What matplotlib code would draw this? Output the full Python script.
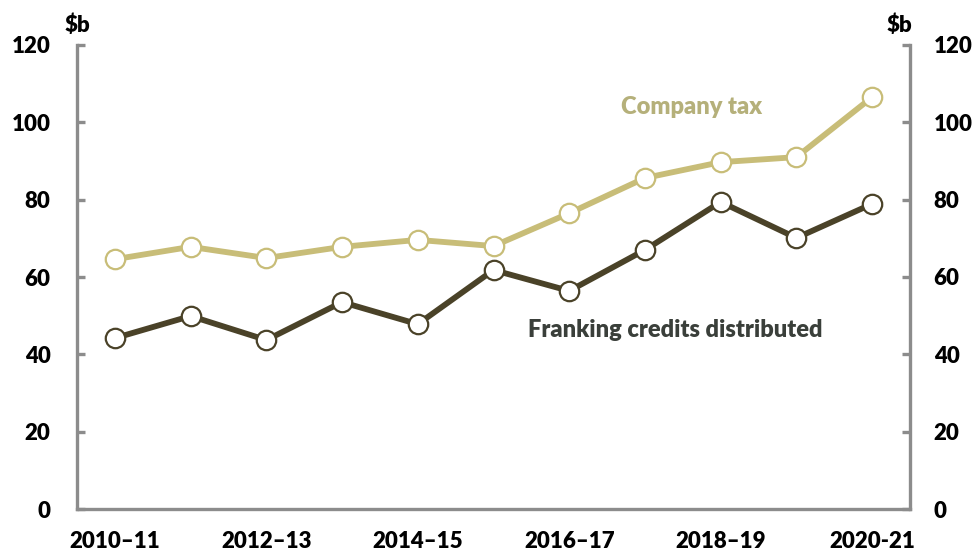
import numpy as np
import matplotlib.pyplot as plt

plt.rcParams['font.family'] = ['Lato', 'DejaVu Sans']
plt.rcParams['font.weight'] = 'heavy'

years = ['2010–11', '2011–12', '2012–13', '2013–14', '2014–15', '2015–16',
         '2016–17', '2017–18', '2018–19', '2019–20', '2020-21']
company_tax = [64.6, 67.8, 64.9, 67.8, 69.6, 68.0, 76.5, 85.6, 89.7, 91.0, 106.5]
franking = [44.2, 49.9, 43.7, 53.5, 47.8, 61.8, 56.4, 67.0, 79.4, 70.1, 78.9]
yticks = [0, 20, 40, 60, 80, 100, 120]

tax_col = '#c8bd78'
frank_col = '#4a4228'
axis_col = '#8c8c8c'

fig = plt.figure(figsize=(9.79, 5.54), dpi=100)
ax = fig.add_axes([0.0787, 0.0812, 0.8508, 0.8376])
x = np.arange(len(years))

ax.plot(x, company_tax, color=tax_col, lw=4.2, marker='o', ms=14,
        mfc='white', mec=tax_col, mew=1.6, zorder=3)
ax.plot(x, franking, color=frank_col, lw=4.2, marker='o', ms=14,
        mfc='white', mec=frank_col, mew=1.6, zorder=3)

ax.set_xlim(-0.5, len(years) - 0.5)
ax.set_ylim(0, 120)
ax.set_xticks(x[::2])
ax.set_xticklabels(years[::2])
ax.set_yticks(yticks)

ax2 = ax.twinx()
ax2.set_ylim(0, 120)
ax2.set_yticks(yticks)

for a in (ax, ax2):
    a.spines['top'].set_visible(False)
    for side in ('left', 'right', 'bottom'):
        a.spines[side].set_color(axis_col)
        a.spines[side].set_linewidth(2.4)
ax.spines['right'].set_visible(False)
ax2.spines['left'].set_visible(False)
ax2.spines['bottom'].set_visible(False)

ax.tick_params(axis='y', direction='in', length=6, width=2.4, color=axis_col,
               labelsize=16, pad=19)
ax2.tick_params(axis='y', direction='in', length=6, width=2.4, color=axis_col,
                labelsize=16, pad=17)
ax.tick_params(axis='x', length=0, labelsize=16, pad=16)

fig.text(0.079, 0.935, '$b', ha='center', va='bottom', fontsize=16)
fig.text(0.919, 0.935, '$b', ha='center', va='bottom', fontsize=16)

ax.text(7.62, 104, 'Company tax', color='#b5b07a', fontsize=17,
        ha='center', va='center')
ax.text(7.4, 46.3, 'Franking credits distributed', color='#3a3f3a', fontsize=17,
        ha='center', va='center')

fig.savefig('out.png', dpi=100)
